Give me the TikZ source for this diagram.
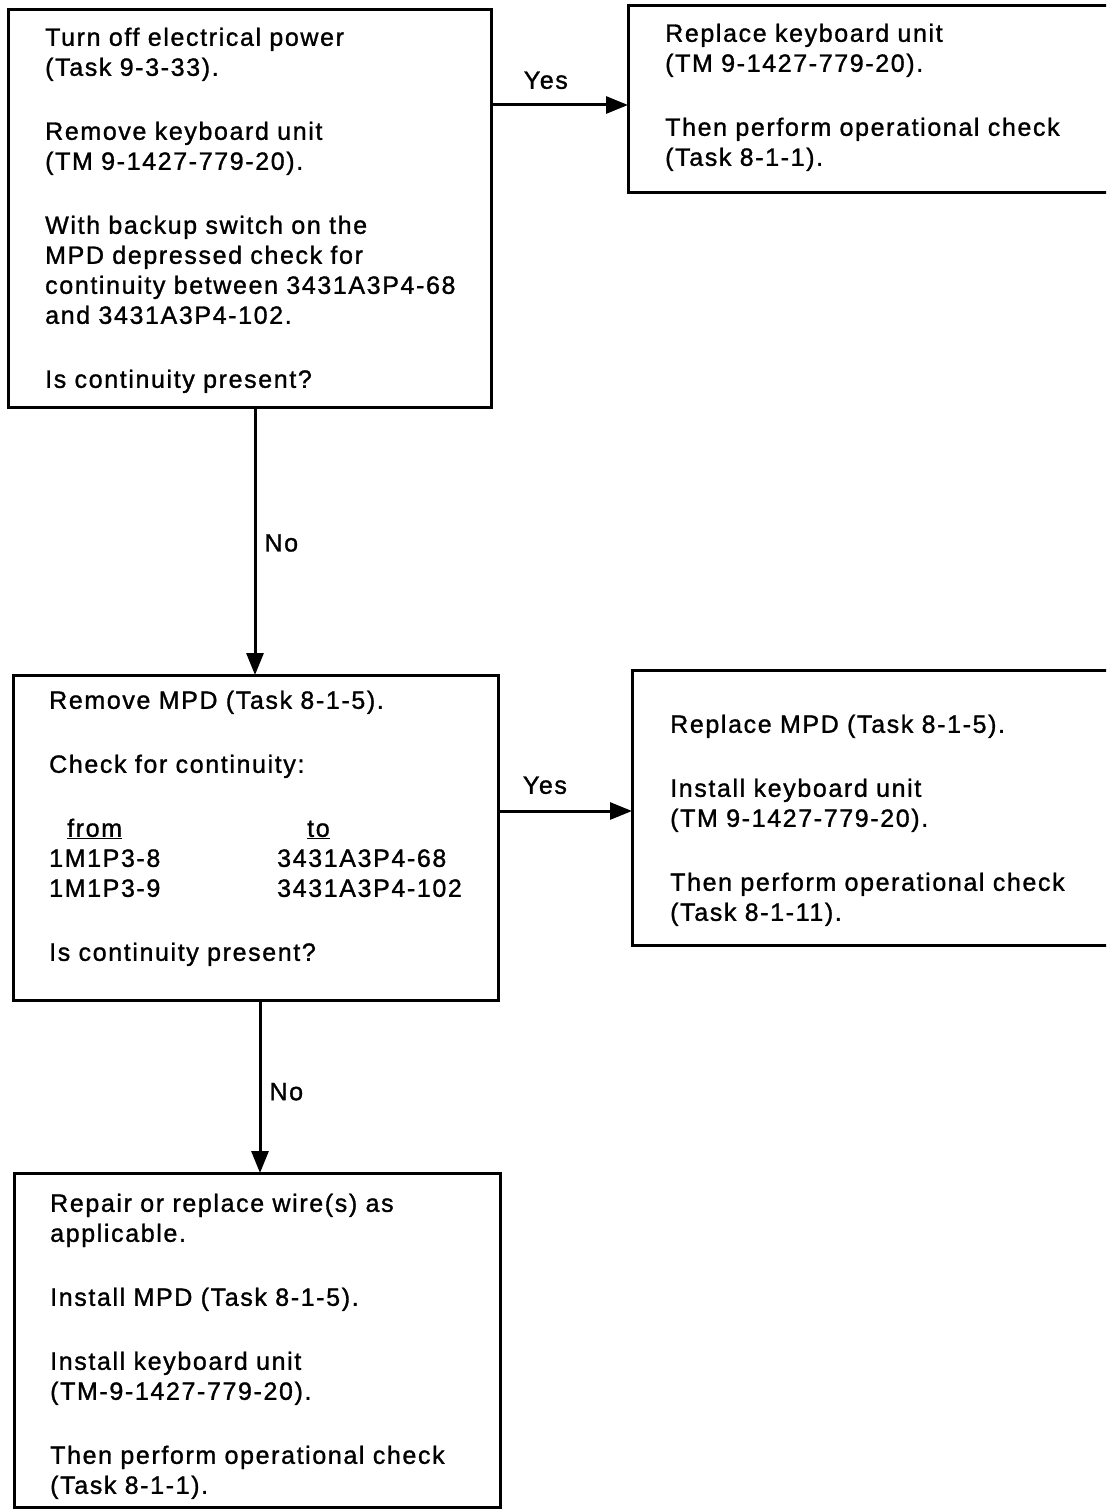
\documentclass[tikz,border=0pt]{standalone}
\usepackage{fontspec}
\setmainfont{Liberation Sans}[LetterSpace=6.5,FakeBold=1.2]
\usetikzlibrary{arrows.meta,calc}
\tikzset{
  box/.style={draw, line width=3pt, inner sep=0pt, outer sep=0pt, anchor=north west, rectangle},
  txt/.style={anchor=north west, inner sep=0pt, text width=520pt, align=left, font=\fontsize{25pt}{30pt}\selectfont},
  arr/.style={line width=3pt, -{Triangle[length=22pt,width=17pt]}},
  lbl/.style={inner sep=0pt, font=\fontsize{25pt}{30pt}\selectfont}
}
\begin{document}
\begin{tikzpicture}[x=1pt,y=-1pt]
\useasboundingbox (0,0) rectangle (1106,1509);
\clip (0,0) rectangle (1106,1509);
% boxes
\node[box, minimum width=483pt, minimum height=397pt] (b1) at (8,10) {};
\node[box, minimum width=520pt, minimum height=186pt] (b2) at (628,6) {};
\node[box, minimum width=485pt, minimum height=325pt] (b3) at (13,675) {};
\node[box, minimum width=520pt, minimum height=275pt] (b4) at (632,670) {};
\node[box, minimum width=486pt, minimum height=334pt] (b5) at (14,1173) {};
% texts
\node[txt] (t1) at (45,24.6) {\strut Turn off electrical power\\
(Task 9-3-33).\\[34pt]
Remove keyboard unit\\
(TM 9-1427-779-20).\\[34pt]
With backup switch on the\\
MPD depressed check for\\
continuity between 3431A3P4-68\\
and 3431A3P4-102.\\[34pt]
Is continuity present?};
\node[txt] (t2) at (665,20.6) {\strut Replace keyboard unit\\
(TM 9-1427-779-20).\\[34pt]
Then perform operational check\\
(Task 8-1-1).};
\node[txt] (t3) at (49,687.6) {\strut Remove MPD (Task 8-1-5).\\[34pt]
Check for continuity:\\[34pt]
\makebox[228pt][l]{\hspace*{18pt}\underline{from}}\hspace*{30pt}\underline{to}\\
\makebox[228pt][l]{1M1P3-8}3431A3P4-68\\
\makebox[228pt][l]{1M1P3-9}3431A3P4-102\\[34pt]
Is continuity present?};
\node[txt] (t4) at (670,711.6) {\strut Replace MPD (Task 8-1-5).\\[34pt]
Install keyboard unit\\
(TM 9-1427-779-20).\\[34pt]
Then perform operational check\\
(Task 8-1-11).};
\node[txt] (t5) at (50,1190.6) {\strut Repair or replace wire(s) as\\
applicable.\\[34pt]
Install MPD (Task 8-1-5).\\[34pt]
Install keyboard unit\\
(TM-9-1427-779-20).\\[34pt]
Then perform operational check\\
(Task 8-1-1).};
% connectors
\coordinate (c1) at (255,0);
\coordinate (c2) at (260,0);
\coordinate (y1) at (0,105);
\coordinate (y2) at (0,811);
\draw[arr] (b1.east |- y1) -- (b2.west |- y1) node[lbl, pos=0.4, above=14.5pt] {Yes};
\draw[arr] (b1.south -| c1) -- (b3.north -| c1) node[lbl, pos=0.5, anchor=west, xshift=8pt, yshift=-2pt] {No};
\draw[arr] (b3.east |- y2) -- (b4.west |- y2) node[lbl, pos=0.35, above=15.5pt] {Yes};
\draw[arr] (b3.south -| c2) -- (b5.north -| c2) node[lbl, pos=0.53, anchor=west, xshift=8pt] {No};
\end{tikzpicture}
\end{document}
